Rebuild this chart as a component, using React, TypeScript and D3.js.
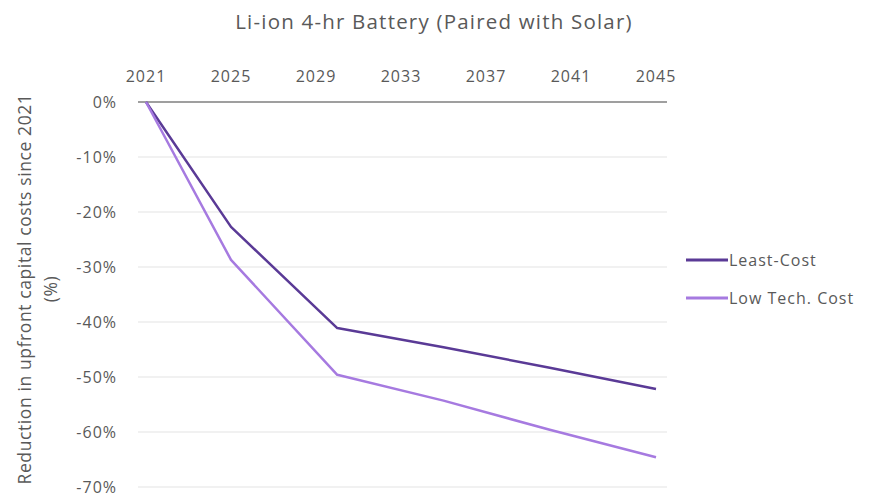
import React from "react";
import * as d3 from "d3";

const W = 869;
const H = 498;

const title = "Li-ion 4-hr Battery (Paired with Solar)";
const yAxisLabel1 = "Reduction in upfront capital costs since 2021";
const yAxisLabel2 = "(%)";

const xTickYears = [2021, 2025, 2029, 2033, 2037, 2041, 2045];
const yTickValues = [0, -10, -20, -30, -40, -50, -60, -70];

const seriesNames = ["Least-Cost", "Low Tech. Cost"];
const seriesColors = ["#5a3a96", "#a67ae0"];

const years = [2021, 2025, 2030, 2035, 2040, 2045];
const leastCost = [0, -22.7, -41.1, -44.6, -48.3, -52.2];
const lowTechCost = [0, -28.7, -49.6, -54.3, -59.6, -64.6];

const seriesValues = [leastCost, lowTechCost];

export default function App() {
  const x = d3.scaleLinear().domain([2021, 2045]).range([146, 656]);
  const y = d3.scaleLinear().domain([0, -70]).range([102, 487]);
  const axisLeft = 138;
  const axisRight = 667;

  const line = d3
    .line<[number, number]>()
    .x((d) => x(d[0]))
    .y((d) => y(d[1]));

  const font = "'Open Sans', sans-serif";
  const textColor = "#595959";

  return (
    <svg
      width={W}
      height={H}
      style={{ position: "absolute", left: 0, top: 0, background: "#fff" }}
      fontFamily={font}
    >
      <text
        x={434}
        y={29}
        textAnchor="middle"
        fontSize={20.5}
        letterSpacing={1.2}
        fill={textColor}
      >
        {title}
      </text>

      {yTickValues.map((v) => (
        <g key={v}>
          {v !== 0 && (
            <line
              x1={axisLeft}
              x2={axisRight}
              y1={y(v)}
              y2={y(v)}
              stroke="#e3e3e3"
              strokeWidth={1.2}
            />
          )}
          <text
            x={117}
            y={y(v)}
            dy="0.35em"
            textAnchor="end"
            fontSize={16}
            letterSpacing={1}
            fill={textColor}
          >
            {`${v}%`}
          </text>
        </g>
      ))}

      <line
        x1={axisLeft}
        x2={axisRight}
        y1={y(0)}
        y2={y(0)}
        stroke="#7f7f7f"
        strokeWidth={1.5}
      />

      {xTickYears.map((yr) => (
        <text
          key={yr}
          x={x(yr)}
          y={82}
          textAnchor="middle"
          fontSize={16}
          letterSpacing={1}
          fill={textColor}
        >
          {yr}
        </text>
      ))}

      <g transform="translate(31,289) rotate(-90)">
        <text textAnchor="middle" fontSize={17.5} letterSpacing={0.6} fill={textColor}>
          {yAxisLabel1}
        </text>
        <text y={26} textAnchor="middle" fontSize={17.5} letterSpacing={0.6} fill={textColor}>
          {yAxisLabel2}
        </text>
      </g>

      {seriesValues.map((vals, i) => (
        <path
          key={seriesNames[i]}
          d={line(years.map((yr, j) => [yr, vals[j]] as [number, number])) || ""}
          fill="none"
          stroke={seriesColors[i]}
          strokeWidth={2.5}
          strokeLinejoin="round"
        />
      ))}

      {seriesNames.map((name, i) => (
        <g key={name} transform={`translate(686,${260 + i * 38})`}>
          <line x1={0} x2={42} y1={0} y2={0} stroke={seriesColors[i]} strokeWidth={3} />
          <text x={43} y={0} dy="0.35em" fontSize={16} letterSpacing={1} fill={textColor}>
            {name}
          </text>
        </g>
      ))}
    </svg>
  );
}
